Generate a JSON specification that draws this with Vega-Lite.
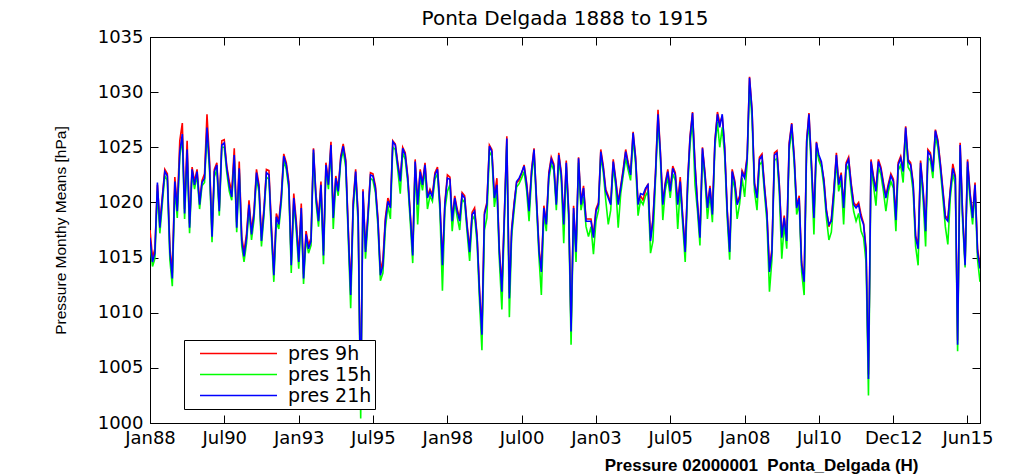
{
"$schema":"https://vega.github.io/schema/vega-lite/v6.json",
"width":830,"height":386,
"autosize":{"type":"none"},
"padding":{"left":150,"top":37,"right":39,"bottom":52},
"background":"white",
"title":{"text":"Ponta Delgada 1888 to 1915","font":"DejaVu Sans","fontSize":20,"fontWeight":"normal","color":"black","anchor":"middle","offset":8,"dy":9},
"data":{"values":[
{"d":"1888-01","p09":1017.5,"p15":1016.2,"p21":1016.8},
{"d":"1888-02","p09":1015.0,"p15":1014.2,"p21":1014.6},
{"d":"1888-03","p09":1015.8,"p15":1014.9,"p21":1015.4},
{"d":"1888-04","p09":1021.6,"p15":1021.0,"p21":1021.8},
{"d":"1888-05","p09":1018.1,"p15":1017.2,"p21":1017.7},
{"d":"1888-06","p09":1020.6,"p15":1019.9,"p21":1020.4},
{"d":"1888-07","p09":1023.0,"p15":1022.4,"p21":1022.8},
{"d":"1888-08","p09":1022.6,"p15":1022.0,"p21":1022.4},
{"d":"1888-09","p09":1016.0,"p15":1014.8,"p21":1015.5},
{"d":"1888-10","p09":1013.6,"p15":1012.4,"p21":1013.1},
{"d":"1888-11","p09":1022.3,"p15":1021.3,"p21":1021.9},
{"d":"1888-12","p09":1019.6,"p15":1018.6,"p21":1019.2},
{"d":"1889-01","p09":1025.6,"p15":1024.2,"p21":1024.6},
{"d":"1889-02","p09":1027.2,"p15":1025.8,"p21":1026.2},
{"d":"1889-03","p09":1019.4,"p15":1018.5,"p21":1019.0},
{"d":"1889-04","p09":1025.6,"p15":1024.3,"p21":1024.8},
{"d":"1889-05","p09":1018.1,"p15":1017.2,"p21":1017.7},
{"d":"1889-06","p09":1023.2,"p15":1022.7,"p21":1023.0},
{"d":"1889-07","p09":1021.9,"p15":1021.2,"p21":1021.6},
{"d":"1889-08","p09":1023.0,"p15":1022.5,"p21":1022.8},
{"d":"1889-09","p09":1020.1,"p15":1019.4,"p21":1019.8},
{"d":"1889-10","p09":1022.0,"p15":1021.5,"p21":1021.8},
{"d":"1889-11","p09":1022.6,"p15":1021.8,"p21":1022.2},
{"d":"1889-12","p09":1028.0,"p15":1026.3,"p21":1026.8},
{"d":"1890-01","p09":1023.8,"p15":1022.9,"p21":1023.4},
{"d":"1890-02","p09":1017.3,"p15":1016.4,"p21":1016.9},
{"d":"1890-03","p09":1023.0,"p15":1022.3,"p21":1022.8},
{"d":"1890-04","p09":1023.6,"p15":1023.0,"p21":1023.4},
{"d":"1890-05","p09":1019.5,"p15":1018.8,"p21":1019.2},
{"d":"1890-06","p09":1025.6,"p15":1025.0,"p21":1025.2},
{"d":"1890-07","p09":1025.7,"p15":1025.0,"p21":1025.4},
{"d":"1890-08","p09":1023.3,"p15":1022.7,"p21":1023.1},
{"d":"1890-09","p09":1021.9,"p15":1021.0,"p21":1021.5},
{"d":"1890-10","p09":1021.0,"p15":1020.2,"p21":1020.5},
{"d":"1890-11","p09":1024.9,"p15":1023.9,"p21":1024.3},
{"d":"1890-12","p09":1018.2,"p15":1017.3,"p21":1017.7},
{"d":"1891-01","p09":1023.7,"p15":1022.7,"p21":1023.1},
{"d":"1891-02","p09":1016.9,"p15":1016.0,"p21":1016.5},
{"d":"1891-03","p09":1015.5,"p15":1014.6,"p21":1015.1},
{"d":"1891-04","p09":1017.2,"p15":1016.3,"p21":1016.8},
{"d":"1891-05","p09":1020.2,"p15":1019.4,"p21":1019.8},
{"d":"1891-06","p09":1017.4,"p15":1016.6,"p21":1017.1},
{"d":"1891-07","p09":1019.2,"p15":1018.4,"p21":1018.9},
{"d":"1891-08","p09":1023.0,"p15":1022.3,"p21":1022.7},
{"d":"1891-09","p09":1021.6,"p15":1020.9,"p21":1021.3},
{"d":"1891-10","p09":1016.9,"p15":1016.0,"p21":1016.5},
{"d":"1891-11","p09":1019.5,"p15":1018.8,"p21":1019.2},
{"d":"1891-12","p09":1023.0,"p15":1022.3,"p21":1022.7},
{"d":"1892-01","p09":1022.9,"p15":1022.1,"p21":1022.5},
{"d":"1892-02","p09":1017.8,"p15":1016.9,"p21":1017.4},
{"d":"1892-03","p09":1013.8,"p15":1012.8,"p21":1013.4},
{"d":"1892-04","p09":1019.0,"p15":1018.2,"p21":1018.7},
{"d":"1892-05","p09":1018.3,"p15":1017.6,"p21":1018.0},
{"d":"1892-06","p09":1020.7,"p15":1020.0,"p21":1020.4},
{"d":"1892-07","p09":1024.4,"p15":1023.8,"p21":1024.2},
{"d":"1892-08","p09":1023.6,"p15":1023.0,"p21":1023.4},
{"d":"1892-09","p09":1021.9,"p15":1021.2,"p21":1021.6},
{"d":"1892-10","p09":1014.7,"p15":1013.6,"p21":1014.3},
{"d":"1892-11","p09":1020.8,"p15":1019.9,"p21":1020.4},
{"d":"1892-12","p09":1018.4,"p15":1017.5,"p21":1018.0},
{"d":"1893-01","p09":1015.1,"p15":1014.0,"p21":1014.6},
{"d":"1893-02","p09":1019.9,"p15":1019.0,"p21":1019.5},
{"d":"1893-03","p09":1013.5,"p15":1012.6,"p21":1013.1},
{"d":"1893-04","p09":1017.4,"p15":1016.7,"p21":1017.1},
{"d":"1893-05","p09":1016.1,"p15":1015.4,"p21":1015.8},
{"d":"1893-06","p09":1016.8,"p15":1016.1,"p21":1016.5},
{"d":"1893-07","p09":1024.9,"p15":1024.5,"p21":1024.8},
{"d":"1893-08","p09":1020.7,"p15":1020.0,"p21":1020.4},
{"d":"1893-09","p09":1018.6,"p15":1017.8,"p21":1018.3},
{"d":"1893-10","p09":1021.9,"p15":1021.2,"p21":1021.6},
{"d":"1893-11","p09":1015.6,"p15":1014.4,"p21":1015.2},
{"d":"1893-12","p09":1023.6,"p15":1023.0,"p21":1023.4},
{"d":"1894-01","p09":1021.9,"p15":1021.2,"p21":1021.6},
{"d":"1894-02","p09":1025.5,"p15":1024.8,"p21":1025.2},
{"d":"1894-03","p09":1018.9,"p15":1017.6,"p21":1018.6},
{"d":"1894-04","p09":1022.4,"p15":1021.8,"p21":1022.2},
{"d":"1894-05","p09":1021.3,"p15":1020.6,"p21":1021.0},
{"d":"1894-06","p09":1024.2,"p15":1023.7,"p21":1024.0},
{"d":"1894-07","p09":1025.3,"p15":1024.7,"p21":1025.1},
{"d":"1894-08","p09":1023.9,"p15":1023.2,"p21":1023.7},
{"d":"1894-09","p09":1017.8,"p15":1016.8,"p21":1017.4},
{"d":"1894-10","p09":1012.0,"p15":1010.4,"p21":1011.6},
{"d":"1894-11","p09":1020.1,"p15":1019.2,"p21":1019.8},
{"d":"1894-12","p09":1023.0,"p15":1022.4,"p21":1022.8},
{"d":"1895-01","p09":1018.9,"p15":1018.0,"p21":1018.6},
{"d":"1895-02","p09":1001.6,"p15":1000.4,"p21":1001.2},
{"d":"1895-03","p09":1021.2,"p15":1020.5,"p21":1021.0},
{"d":"1895-04","p09":1015.8,"p15":1014.9,"p21":1015.5},
{"d":"1895-05","p09":1019.0,"p15":1018.3,"p21":1018.7},
{"d":"1895-06","p09":1022.7,"p15":1022.2,"p21":1022.5},
{"d":"1895-07","p09":1022.6,"p15":1022.0,"p21":1022.4},
{"d":"1895-08","p09":1021.5,"p15":1020.9,"p21":1021.3},
{"d":"1895-09","p09":1018.6,"p15":1017.8,"p21":1018.3},
{"d":"1895-10","p09":1013.8,"p15":1012.9,"p21":1013.4},
{"d":"1895-11","p09":1014.8,"p15":1013.6,"p21":1014.3},
{"d":"1895-12","p09":1018.6,"p15":1017.6,"p21":1018.3},
{"d":"1896-01","p09":1020.4,"p15":1019.7,"p21":1020.1},
{"d":"1896-02","p09":1019.7,"p15":1018.5,"p21":1019.5},
{"d":"1896-03","p09":1025.6,"p15":1025.0,"p21":1025.5},
{"d":"1896-04","p09":1025.3,"p15":1024.8,"p21":1025.2},
{"d":"1896-05","p09":1023.6,"p15":1023.0,"p21":1023.4},
{"d":"1896-06","p09":1022.1,"p15":1020.8,"p21":1021.9},
{"d":"1896-07","p09":1025.0,"p15":1024.5,"p21":1024.9},
{"d":"1896-08","p09":1024.5,"p15":1023.9,"p21":1024.3},
{"d":"1896-09","p09":1022.4,"p15":1021.8,"p21":1022.2},
{"d":"1896-10","p09":1019.1,"p15":1018.3,"p21":1018.9},
{"d":"1896-11","p09":1015.5,"p15":1014.5,"p21":1015.2},
{"d":"1896-12","p09":1023.9,"p15":1023.3,"p21":1023.7},
{"d":"1897-01","p09":1020.0,"p15":1018.0,"p21":1019.8},
{"d":"1897-02","p09":1023.0,"p15":1022.4,"p21":1022.8},
{"d":"1897-03","p09":1021.8,"p15":1021.1,"p21":1021.6},
{"d":"1897-04","p09":1023.6,"p15":1023.0,"p21":1023.4},
{"d":"1897-05","p09":1020.6,"p15":1019.4,"p21":1020.4},
{"d":"1897-06","p09":1021.2,"p15":1020.6,"p21":1021.0},
{"d":"1897-07","p09":1020.7,"p15":1020.1,"p21":1020.5},
{"d":"1897-08","p09":1022.7,"p15":1022.1,"p21":1022.5},
{"d":"1897-09","p09":1023.2,"p15":1022.6,"p21":1023.0},
{"d":"1897-10","p09":1020.0,"p15":1019.2,"p21":1019.8},
{"d":"1897-11","p09":1014.6,"p15":1012.0,"p21":1014.3},
{"d":"1897-12","p09":1020.0,"p15":1019.3,"p21":1019.8},
{"d":"1898-01","p09":1022.5,"p15":1021.0,"p21":1022.2},
{"d":"1898-02","p09":1022.3,"p15":1021.6,"p21":1022.1},
{"d":"1898-03","p09":1018.5,"p15":1017.4,"p21":1018.3},
{"d":"1898-04","p09":1020.6,"p15":1020.0,"p21":1020.4},
{"d":"1898-05","p09":1019.4,"p15":1018.7,"p21":1019.2},
{"d":"1898-06","p09":1018.5,"p15":1017.5,"p21":1018.3},
{"d":"1898-07","p09":1020.9,"p15":1020.3,"p21":1020.7},
{"d":"1898-08","p09":1020.6,"p15":1020.0,"p21":1020.4},
{"d":"1898-09","p09":1017.9,"p15":1017.2,"p21":1017.7},
{"d":"1898-10","p09":1015.8,"p15":1014.7,"p21":1015.5},
{"d":"1898-11","p09":1019.1,"p15":1018.4,"p21":1018.9},
{"d":"1898-12","p09":1019.5,"p15":1018.8,"p21":1019.2},
{"d":"1899-01","p09":1017.0,"p15":1016.2,"p21":1016.8},
{"d":"1899-02","p09":1011.9,"p15":1010.8,"p21":1011.6},
{"d":"1899-03","p09":1008.4,"p15":1006.6,"p21":1008.0},
{"d":"1899-04","p09":1019.1,"p15":1017.5,"p21":1018.9},
{"d":"1899-05","p09":1020.0,"p15":1018.6,"p21":1019.8},
{"d":"1899-06","p09":1025.2,"p15":1024.6,"p21":1025.1},
{"d":"1899-07","p09":1024.8,"p15":1024.2,"p21":1024.6},
{"d":"1899-08","p09":1020.6,"p15":1019.6,"p21":1020.4},
{"d":"1899-09","p09":1022.2,"p15":1021.2,"p21":1021.6},
{"d":"1899-10","p09":1015.8,"p15":1014.8,"p21":1015.5},
{"d":"1899-11","p09":1012.3,"p15":1010.3,"p21":1011.9},
{"d":"1899-12","p09":1018.8,"p15":1018.0,"p21":1018.6},
{"d":"1900-01","p09":1026.0,"p15":1025.3,"p21":1025.8},
{"d":"1900-02","p09":1011.8,"p15":1009.6,"p21":1011.3},
{"d":"1900-03","p09":1017.6,"p15":1016.9,"p21":1017.4},
{"d":"1900-04","p09":1020.0,"p15":1019.3,"p21":1019.8},
{"d":"1900-05","p09":1021.8,"p15":1021.4,"p21":1021.9},
{"d":"1900-06","p09":1022.0,"p15":1021.7,"p21":1022.2},
{"d":"1900-07","p09":1022.6,"p15":1022.2,"p21":1022.7},
{"d":"1900-08","p09":1023.4,"p15":1022.8,"p21":1023.3},
{"d":"1900-09","p09":1021.8,"p15":1021.1,"p21":1021.6},
{"d":"1900-10","p09":1019.4,"p15":1018.3,"p21":1019.2},
{"d":"1900-11","p09":1023.0,"p15":1022.3,"p21":1022.8},
{"d":"1900-12","p09":1024.9,"p15":1024.4,"p21":1024.8},
{"d":"1901-01","p09":1020.3,"p15":1019.6,"p21":1020.1},
{"d":"1901-02","p09":1015.8,"p15":1014.9,"p21":1015.5},
{"d":"1901-03","p09":1014.0,"p15":1011.6,"p21":1013.7},
{"d":"1901-04","p09":1019.7,"p15":1019.0,"p21":1019.5},
{"d":"1901-05","p09":1018.2,"p15":1017.4,"p21":1018.0},
{"d":"1901-06","p09":1022.7,"p15":1022.1,"p21":1022.5},
{"d":"1901-07","p09":1024.1,"p15":1023.5,"p21":1023.9},
{"d":"1901-08","p09":1023.5,"p15":1022.9,"p21":1023.3},
{"d":"1901-09","p09":1020.0,"p15":1019.3,"p21":1019.8},
{"d":"1901-10","p09":1024.5,"p15":1023.9,"p21":1024.3},
{"d":"1901-11","p09":1022.7,"p15":1022.0,"p21":1022.5},
{"d":"1901-12","p09":1018.2,"p15":1016.3,"p21":1018.0},
{"d":"1902-01","p09":1023.8,"p15":1023.2,"p21":1023.6},
{"d":"1902-02","p09":1019.1,"p15":1018.3,"p21":1018.9},
{"d":"1902-03","p09":1008.7,"p15":1007.1,"p21":1008.3},
{"d":"1902-04","p09":1019.7,"p15":1019.0,"p21":1019.5},
{"d":"1902-05","p09":1015.7,"p15":1014.6,"p21":1015.5},
{"d":"1902-06","p09":1024.1,"p15":1023.6,"p21":1024.0},
{"d":"1902-07","p09":1020.0,"p15":1019.3,"p21":1019.8},
{"d":"1902-08","p09":1021.5,"p15":1020.5,"p21":1021.3},
{"d":"1902-09","p09":1018.5,"p15":1017.8,"p21":1018.3},
{"d":"1902-10","p09":1018.5,"p15":1016.9,"p21":1018.3},
{"d":"1902-11","p09":1018.5,"p15":1017.8,"p21":1018.3},
{"d":"1902-12","p09":1017.0,"p15":1015.3,"p21":1016.8},
{"d":"1903-01","p09":1019.4,"p15":1018.3,"p21":1019.2},
{"d":"1903-02","p09":1020.0,"p15":1019.3,"p21":1019.8},
{"d":"1903-03","p09":1024.8,"p15":1024.2,"p21":1024.6},
{"d":"1903-04","p09":1023.3,"p15":1022.7,"p21":1023.1},
{"d":"1903-05","p09":1021.2,"p15":1020.2,"p21":1021.0},
{"d":"1903-06","p09":1020.6,"p15":1018.0,"p21":1020.4},
{"d":"1903-07","p09":1020.0,"p15":1019.3,"p21":1019.8},
{"d":"1903-08","p09":1023.9,"p15":1023.3,"p21":1023.7},
{"d":"1903-09","p09":1022.1,"p15":1021.4,"p21":1021.9},
{"d":"1903-10","p09":1020.0,"p15":1017.7,"p21":1019.8},
{"d":"1903-11","p09":1021.5,"p15":1020.8,"p21":1021.3},
{"d":"1903-12","p09":1023.0,"p15":1022.4,"p21":1022.8},
{"d":"1904-01","p09":1024.8,"p15":1024.0,"p21":1024.6},
{"d":"1904-02","p09":1023.6,"p15":1022.9,"p21":1023.4},
{"d":"1904-03","p09":1022.7,"p15":1022.0,"p21":1022.5},
{"d":"1904-04","p09":1026.4,"p15":1025.8,"p21":1026.3},
{"d":"1904-05","p09":1024.2,"p15":1023.5,"p21":1024.0},
{"d":"1904-06","p09":1020.0,"p15":1018.8,"p21":1019.8},
{"d":"1904-07","p09":1020.6,"p15":1020.2,"p21":1020.8},
{"d":"1904-08","p09":1020.2,"p15":1019.8,"p21":1020.7},
{"d":"1904-09","p09":1021.1,"p15":1020.6,"p21":1021.3},
{"d":"1904-10","p09":1021.7,"p15":1021.0,"p21":1021.6},
{"d":"1904-11","p09":1016.8,"p15":1015.4,"p21":1016.5},
{"d":"1904-12","p09":1018.5,"p15":1016.5,"p21":1018.3},
{"d":"1905-01","p09":1022.7,"p15":1022.0,"p21":1022.5},
{"d":"1905-02","p09":1028.4,"p15":1027.4,"p21":1028.0},
{"d":"1905-03","p09":1024.8,"p15":1024.1,"p21":1024.6},
{"d":"1905-04","p09":1020.0,"p15":1018.4,"p21":1019.8},
{"d":"1905-05","p09":1021.8,"p15":1021.1,"p21":1021.6},
{"d":"1905-06","p09":1023.0,"p15":1022.3,"p21":1022.8},
{"d":"1905-07","p09":1021.2,"p15":1020.4,"p21":1021.0},
{"d":"1905-08","p09":1023.3,"p15":1022.6,"p21":1023.1},
{"d":"1905-09","p09":1022.7,"p15":1022.0,"p21":1022.5},
{"d":"1905-10","p09":1020.0,"p15":1017.6,"p21":1019.8},
{"d":"1905-11","p09":1022.3,"p15":1021.3,"p21":1021.9},
{"d":"1905-12","p09":1018.8,"p15":1018.0,"p21":1018.6},
{"d":"1906-01","p09":1015.8,"p15":1014.6,"p21":1015.5},
{"d":"1906-02","p09":1022.1,"p15":1021.3,"p21":1021.9},
{"d":"1906-03","p09":1026.0,"p15":1025.2,"p21":1025.8},
{"d":"1906-04","p09":1028.2,"p15":1027.5,"p21":1028.1},
{"d":"1906-05","p09":1023.6,"p15":1021.6,"p21":1023.4},
{"d":"1906-06","p09":1020.0,"p15":1019.2,"p21":1019.8},
{"d":"1906-07","p09":1017.0,"p15":1016.1,"p21":1016.8},
{"d":"1906-08","p09":1025.0,"p15":1024.4,"p21":1024.9},
{"d":"1906-09","p09":1022.7,"p15":1022.0,"p21":1022.5},
{"d":"1906-10","p09":1019.7,"p15":1018.5,"p21":1019.5},
{"d":"1906-11","p09":1021.5,"p15":1020.8,"p21":1021.3},
{"d":"1906-12","p09":1019.2,"p15":1018.2,"p21":1018.9},
{"d":"1907-01","p09":1025.6,"p15":1025.0,"p21":1025.5},
{"d":"1907-02","p09":1028.2,"p15":1027.3,"p21":1028.0},
{"d":"1907-03","p09":1027.2,"p15":1025.0,"p21":1026.8},
{"d":"1907-04","p09":1027.8,"p15":1026.8,"p21":1028.0},
{"d":"1907-05","p09":1025.0,"p15":1024.2,"p21":1024.9},
{"d":"1907-06","p09":1019.4,"p15":1018.6,"p21":1019.2},
{"d":"1907-07","p09":1015.8,"p15":1014.8,"p21":1015.5},
{"d":"1907-08","p09":1023.0,"p15":1022.2,"p21":1022.8},
{"d":"1907-09","p09":1022.0,"p15":1021.3,"p21":1021.8},
{"d":"1907-10","p09":1020.0,"p15":1018.5,"p21":1019.8},
{"d":"1907-11","p09":1020.6,"p15":1019.9,"p21":1020.4},
{"d":"1907-12","p09":1022.9,"p15":1022.2,"p21":1022.7},
{"d":"1908-01","p09":1022.4,"p15":1020.5,"p21":1022.2},
{"d":"1908-02","p09":1024.2,"p15":1023.5,"p21":1024.0},
{"d":"1908-03","p09":1031.4,"p15":1030.6,"p21":1031.3},
{"d":"1908-04","p09":1028.4,"p15":1027.6,"p21":1028.3},
{"d":"1908-05","p09":1021.8,"p15":1021.0,"p21":1021.6},
{"d":"1908-06","p09":1020.6,"p15":1019.3,"p21":1020.4},
{"d":"1908-07","p09":1024.1,"p15":1023.4,"p21":1023.9},
{"d":"1908-08","p09":1024.4,"p15":1023.7,"p21":1024.2},
{"d":"1908-09","p09":1021.5,"p15":1020.8,"p21":1021.3},
{"d":"1908-10","p09":1019.1,"p15":1018.2,"p21":1018.9},
{"d":"1908-11","p09":1014.0,"p15":1011.9,"p21":1013.7},
{"d":"1908-12","p09":1015.8,"p15":1014.8,"p21":1015.5},
{"d":"1909-01","p09":1024.5,"p15":1023.8,"p21":1024.3},
{"d":"1909-02","p09":1024.7,"p15":1024.0,"p21":1024.5},
{"d":"1909-03","p09":1021.8,"p15":1021.0,"p21":1021.6},
{"d":"1909-04","p09":1017.0,"p15":1014.9,"p21":1016.8},
{"d":"1909-05","p09":1018.8,"p15":1018.0,"p21":1018.6},
{"d":"1909-06","p09":1016.7,"p15":1015.8,"p21":1016.5},
{"d":"1909-07","p09":1025.4,"p15":1024.7,"p21":1025.2},
{"d":"1909-08","p09":1027.2,"p15":1026.6,"p21":1027.1},
{"d":"1909-09","p09":1024.2,"p15":1023.5,"p21":1024.0},
{"d":"1909-10","p09":1019.7,"p15":1018.9,"p21":1019.5},
{"d":"1909-11","p09":1020.6,"p15":1019.9,"p21":1020.4},
{"d":"1909-12","p09":1014.6,"p15":1013.7,"p21":1014.3},
{"d":"1910-01","p09":1013.1,"p15":1011.6,"p21":1012.8},
{"d":"1910-02","p09":1025.7,"p15":1025.0,"p21":1025.5},
{"d":"1910-03","p09":1028.1,"p15":1027.3,"p21":1028.0},
{"d":"1910-04","p09":1023.6,"p15":1022.8,"p21":1023.4},
{"d":"1910-05","p09":1018.8,"p15":1017.1,"p21":1018.6},
{"d":"1910-06","p09":1025.5,"p15":1024.9,"p21":1025.4},
{"d":"1910-07","p09":1024.0,"p15":1023.8,"p21":1024.3},
{"d":"1910-08","p09":1023.4,"p15":1023.2,"p21":1023.7},
{"d":"1910-09","p09":1022.1,"p15":1021.4,"p21":1021.9},
{"d":"1910-10","p09":1019.4,"p15":1018.6,"p21":1019.2},
{"d":"1910-11","p09":1017.8,"p15":1016.6,"p21":1018.0},
{"d":"1910-12","p09":1018.5,"p15":1017.3,"p21":1018.3},
{"d":"1911-01","p09":1021.2,"p15":1020.2,"p21":1021.0},
{"d":"1911-02","p09":1024.5,"p15":1023.8,"p21":1024.3},
{"d":"1911-03","p09":1021.8,"p15":1021.0,"p21":1021.6},
{"d":"1911-04","p09":1022.7,"p15":1022.0,"p21":1022.5},
{"d":"1911-05","p09":1019.7,"p15":1018.0,"p21":1019.5},
{"d":"1911-06","p09":1023.6,"p15":1022.9,"p21":1023.4},
{"d":"1911-07","p09":1024.1,"p15":1023.4,"p21":1023.9},
{"d":"1911-08","p09":1021.8,"p15":1021.0,"p21":1021.6},
{"d":"1911-09","p09":1020.0,"p15":1019.2,"p21":1019.8},
{"d":"1911-10","p09":1019.7,"p15":1018.3,"p21":1019.5},
{"d":"1911-11","p09":1020.0,"p15":1019.0,"p21":1019.8},
{"d":"1911-12","p09":1018.9,"p15":1017.4,"p21":1018.6},
{"d":"1912-01","p09":1018.1,"p15":1016.8,"p21":1018.0},
{"d":"1912-02","p09":1015.8,"p15":1014.5,"p21":1015.5},
{"d":"1912-03","p09":1004.4,"p15":1002.5,"p21":1004.0},
{"d":"1912-04","p09":1023.9,"p15":1023.2,"p21":1023.7},
{"d":"1912-05","p09":1022.4,"p15":1021.6,"p21":1022.2},
{"d":"1912-06","p09":1021.2,"p15":1019.7,"p21":1021.0},
{"d":"1912-07","p09":1023.9,"p15":1023.2,"p21":1023.7},
{"d":"1912-08","p09":1023.2,"p15":1022.5,"p21":1023.0},
{"d":"1912-09","p09":1021.8,"p15":1021.0,"p21":1021.6},
{"d":"1912-10","p09":1020.6,"p15":1019.2,"p21":1020.4},
{"d":"1912-11","p09":1021.7,"p15":1021.0,"p21":1021.5},
{"d":"1912-12","p09":1022.6,"p15":1021.9,"p21":1022.4},
{"d":"1913-01","p09":1022.1,"p15":1021.3,"p21":1021.9},
{"d":"1913-02","p09":1018.7,"p15":1017.4,"p21":1018.4},
{"d":"1913-03","p09":1023.6,"p15":1022.9,"p21":1023.4},
{"d":"1913-04","p09":1024.2,"p15":1023.4,"p21":1024.0},
{"d":"1913-05","p09":1023.0,"p15":1021.8,"p21":1022.8},
{"d":"1913-06","p09":1026.9,"p15":1026.2,"p21":1026.8},
{"d":"1913-07","p09":1023.9,"p15":1023.2,"p21":1023.7},
{"d":"1913-08","p09":1023.6,"p15":1022.8,"p21":1023.4},
{"d":"1913-09","p09":1021.8,"p15":1021.0,"p21":1021.6},
{"d":"1913-10","p09":1017.0,"p15":1016.0,"p21":1016.8},
{"d":"1913-11","p09":1016.1,"p15":1014.3,"p21":1015.8},
{"d":"1913-12","p09":1023.8,"p15":1023.1,"p21":1023.6},
{"d":"1914-01","p09":1021.2,"p15":1020.3,"p21":1021.0},
{"d":"1914-02","p09":1017.6,"p15":1016.0,"p21":1017.4},
{"d":"1914-03","p09":1024.8,"p15":1024.1,"p21":1024.6},
{"d":"1914-04","p09":1024.5,"p15":1023.8,"p21":1024.3},
{"d":"1914-05","p09":1023.0,"p15":1022.2,"p21":1022.8},
{"d":"1914-06","p09":1026.6,"p15":1026.0,"p21":1026.5},
{"d":"1914-07","p09":1025.7,"p15":1025.0,"p21":1025.5},
{"d":"1914-08","p09":1023.6,"p15":1022.9,"p21":1023.4},
{"d":"1914-09","p09":1021.2,"p15":1020.4,"p21":1021.0},
{"d":"1914-10","p09":1018.8,"p15":1017.8,"p21":1018.6},
{"d":"1914-11","p09":1018.5,"p15":1016.2,"p21":1018.3},
{"d":"1914-12","p09":1021.2,"p15":1020.4,"p21":1021.0},
{"d":"1915-01","p09":1023.5,"p15":1022.6,"p21":1023.1},
{"d":"1915-02","p09":1022.4,"p15":1021.6,"p21":1022.2},
{"d":"1915-03","p09":1007.5,"p15":1006.5,"p21":1007.1},
{"d":"1915-04","p09":1025.4,"p15":1024.6,"p21":1025.2},
{"d":"1915-05","p09":1019.1,"p15":1018.3,"p21":1018.9},
{"d":"1915-06","p09":1014.6,"p15":1014.1,"p21":1014.3},
{"d":"1915-07","p09":1023.9,"p15":1023.2,"p21":1023.7},
{"d":"1915-08","p09":1020.9,"p15":1020.1,"p21":1020.7},
{"d":"1915-09","p09":1018.8,"p15":1018.0,"p21":1018.6},
{"d":"1915-10","p09":1021.8,"p15":1021.0,"p21":1021.6},
{"d":"1915-11","p09":1015.8,"p15":1014.8,"p21":1015.5},
{"d":"1915-12","p09":1014.3,"p15":1012.8,"p21":1014.0}
]},
"transform":[{"fold":["p09","p15","p21"],"as":["series","p"]}],
"layer":[
{"mark":{"type":"line","strokeWidth":1.6,"clip":true},
 "encoding":{
  "x":{"field":"d","type":"temporal",
   "scale":{"type":"utc","domain":[{"year":1888,"month":1,"date":1,"utc":true},{"year":1915,"month":12,"date":1,"utc":true}]},
   "axis":{"orient":"bottom","format":"%b%y",
    "values":[{"year":1888,"month":1,"date":1,"utc":true},{"year":1890,"month":7,"date":1,"utc":true},{"year":1893,"month":1,"date":1,"utc":true},{"year":1895,"month":7,"date":1,"utc":true},{"year":1898,"month":1,"date":1,"utc":true},{"year":1900,"month":7,"date":1,"utc":true},{"year":1903,"month":1,"date":1,"utc":true},{"year":1905,"month":7,"date":1,"utc":true},{"year":1908,"month":1,"date":1,"utc":true},{"year":1910,"month":7,"date":1,"utc":true},{"year":1912,"month":12,"date":31,"utc":true},{"year":1915,"month":6,"date":30,"utc":true}],
    "labelPadding":14,
    "title":"Pressure 02000001\u00a0 Ponta_Delgada (H)","titleFont":"Liberation Sans","titleFontWeight":"bold","titleFontSize":17,"titleColor":"black","titleX":768,"titleY":47,"titleAlign":"right","titleAnchor":null,"titleBaseline":"alphabetic"}},
  "y":{"field":"p","type":"quantitative","scale":{"domain":[1000,1035],"nice":false,"zero":false},
   "axis":{"orient":"left","format":"d","values":[1000,1005,1010,1015,1020,1025,1030,1035],"labelPadding":15,
    "title":"Pressure Monthy Means [hPa]","titleFont":"Liberation Sans","titleFontWeight":"normal","titleFontSize":15.5,"titleColor":"black","titleX":-82,"titleY":193,"titleAngle":-90,"titleBaseline":"bottom","titleAlign":"center"}},
  "color":{"field":"series","type":"nominal",
   "scale":{"domain":["p09","p15","p21"],"range":["#ff0000","#00ff00","#0000ff"]},
   "legend":{"orient":"none","legendX":34,"legendY":303,"title":null,"symbolType":"stroke","symbolSize":5929,"symbolStrokeWidth":1.5,"symbolOpacity":1,
    "labelFont":"DejaVu Sans","labelFontSize":19,"labelColor":"black","strokeColor":"black","fillColor":"white","padding":3,"clipHeight":21,"rowPadding":0,"symbolOffset":12,"labelOffset":10,
    "labelExpr":"datum.label=='p09'?'pres 9h':datum.label=='p15'?'pres 15h':'pres 21h'"}}
 }},
{"mark":{"type":"line","opacity":0,"clip":true},
 "encoding":{
  "x":{"field":"d","type":"temporal",
   "axis":{"orient":"top","labels":false,"title":null,
    "values":[{"year":1888,"month":1,"date":1,"utc":true},{"year":1890,"month":7,"date":1,"utc":true},{"year":1893,"month":1,"date":1,"utc":true},{"year":1895,"month":7,"date":1,"utc":true},{"year":1898,"month":1,"date":1,"utc":true},{"year":1900,"month":7,"date":1,"utc":true},{"year":1903,"month":1,"date":1,"utc":true},{"year":1905,"month":7,"date":1,"utc":true},{"year":1908,"month":1,"date":1,"utc":true},{"year":1910,"month":7,"date":1,"utc":true},{"year":1912,"month":12,"date":31,"utc":true},{"year":1915,"month":6,"date":30,"utc":true}]}},
  "y":{"field":"p","type":"quantitative","axis":{"orient":"right","labels":false,"title":null,"values":[1000,1005,1010,1015,1020,1025,1030,1035]}}
 }}
],
"resolve":{"axis":{"x":"independent","y":"independent"}},
"config":{
 "font":"DejaVu Sans",
 "view":{"stroke":"black","strokeWidth":1},
 "axis":{"grid":false,"domain":true,"domainColor":"black","domainWidth":1,"tickColor":"black","tickSize":-8,"tickWidth":1,
  "labelFont":"DejaVu Sans","labelFontSize":18,"labelColor":"black","labelFlush":false,"labelOverlap":false,"labelBound":false}
}
}
